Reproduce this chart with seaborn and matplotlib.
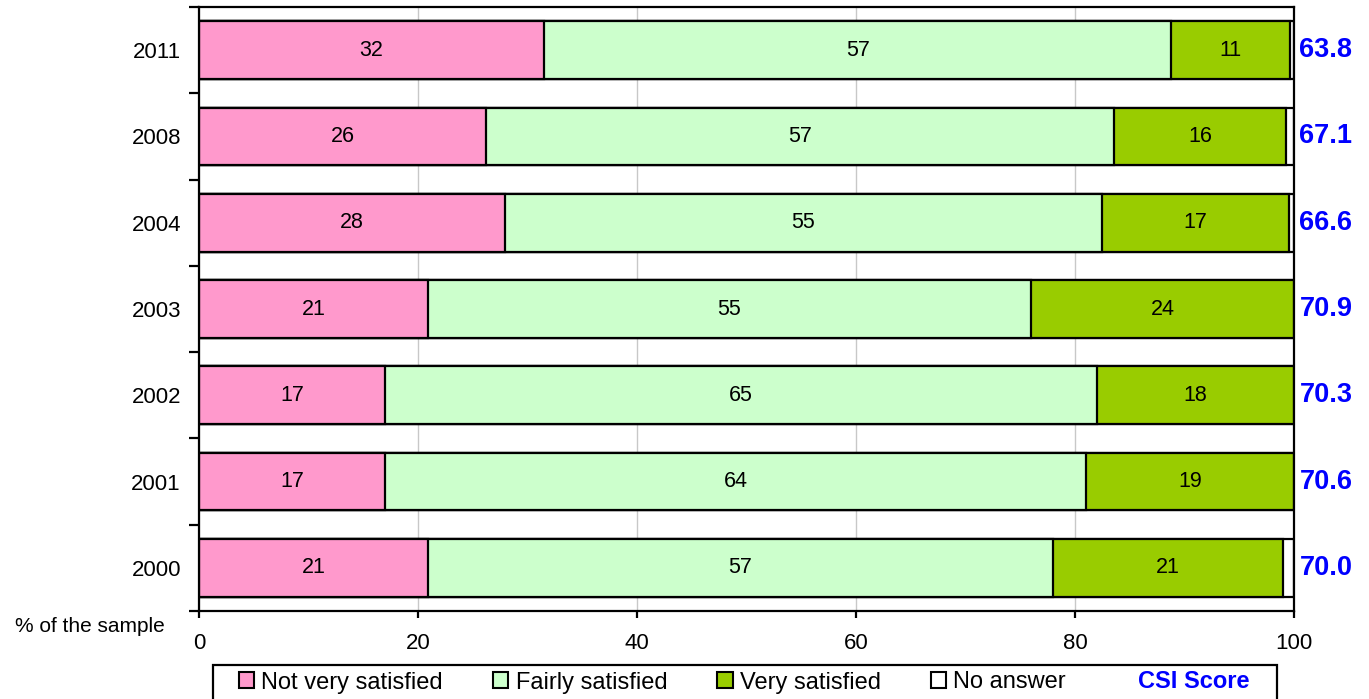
import numpy as np
import pandas as pd
import matplotlib.pyplot as plt
import seaborn as sns
from matplotlib.patches import Patch, Rectangle
from matplotlib.ticker import MultipleLocator

# Data (% of the sample)
years = ["2011", "2008", "2004", "2003", "2002", "2001", "2000"]
not_very = [31.5, 26.2, 27.9, 20.9, 17.0, 17.0, 20.9]
fairly = [57.3, 57.4, 54.6, 55.1, 65.0, 64.0, 57.1]
very = [10.8, 15.7, 17.0, 24.0, 18.0, 19.0, 21.0]
no_answer = [0.4, 0.7, 0.5, 0.0, 0.0, 0.0, 1.0]
csi_score = ["63.8", "67.1", "66.6", "70.9", "70.3", "70.6", "70.0"]

series_names = ["Not very satisfied", "Fairly satisfied", "Very satisfied", "No answer"]
colors = ["#FF99CC", "#CCFFCC", "#99CC00", "#FFFFFF"]

df = pd.DataFrame({"year": years, series_names[0]: not_very, series_names[1]: fairly,
                   series_names[2]: very, series_names[3]: no_answer})
cum = df[series_names].cumsum(axis=1)

sns.set_style("white")
plt.rcParams["font.family"] = ["Liberation Sans", "DejaVu Sans"]
plt.rcParams["text.color"] = "black"
plt.rcParams["xtick.color"] = "black"
plt.rcParams["ytick.color"] = "black"

fig = plt.figure(figsize=(13.69, 6.99), dpi=100)
ax = fig.add_axes([199 / 1369, 1 - 611 / 699, (1294 - 199) / 1369, (611 - 7) / 699])

# Stacked bars drawn as overlaid cumulative bars, longest first
for name, col in reversed(list(zip(series_names, colors))):
    sns.barplot(x=cum[name], y=df["year"], order=years, orient="h", color=col,
                edgecolor="black", linewidth=1.6, width=0.67, errorbar=None,
                saturation=1, ax=ax)

# Segment labels
for i in range(len(years)):
    left = 0
    for name in series_names[:3]:
        v = df[name].iloc[i]
        ax.text(left + v / 2, i, f"{v:.0f}", ha="center", va="center", fontsize=15.5,
                color="black")
        left += v
    ax.text(1.005, i, csi_score[i], transform=ax.get_yaxis_transform(), ha="left",
            va="center", fontsize=19.5, fontweight="bold", color="#0000FF")

ax.set_xlim(0, 100)
ax.set_ylim(len(years) - 0.5, -0.5)
ax.set_xlabel("")
ax.set_ylabel("")
ax.xaxis.set_major_locator(MultipleLocator(20))
ax.xaxis.grid(True, color="#C8C8C8", linewidth=1)
ax.set_axisbelow(True)

for s in ax.spines.values():
    s.set_linewidth(1.6)
    s.set_color("black")

ax.set_yticks(np.arange(len(years)))
ax.set_yticks(np.arange(len(years) + 1) - 0.5, minor=True)
ax.tick_params(axis="y", which="major", length=0, pad=13, labelsize=16)
ax.tick_params(axis="y", which="minor", left=True, length=7, width=1.6, color="black")
ax.tick_params(axis="x", which="major", bottom=True, length=5, width=1.6, pad=11,
               labelsize=16, color="black")

fig.text(165 / 1369, 1 - 627 / 699, "% of the sample", ha="right", va="center", fontsize=15)

# Legend (box drawn separately so it can be wider than the entries)
handles = [Patch(facecolor=c, edgecolor="black", linewidth=1.5) for c in colors]
handles.append(Patch(facecolor="none", edgecolor="none"))
leg = fig.legend(handles, series_names + ["CSI Score"], loc="center left",
                 bbox_to_anchor=(239 / 1369, 1 - 682 / 699), ncol=5, fontsize=17,
                 handlelength=0.65, handleheight=0.65, handletextpad=0.3,
                 columnspacing=2.12, frameon=False, borderpad=0, borderaxespad=0)
csi_txt = leg.get_texts()[-1]
csi_txt.set_color("#0000FF")
csi_txt.set_fontweight("bold")
fig.add_artist(Rectangle((213 / 1369, -0.02), (1277 - 213) / 1369, (699 - 665) / 699 + 0.02,
                         transform=fig.transFigure, fill=False, edgecolor="black",
                         linewidth=1.6))

fig.savefig("out.png", dpi=100)
